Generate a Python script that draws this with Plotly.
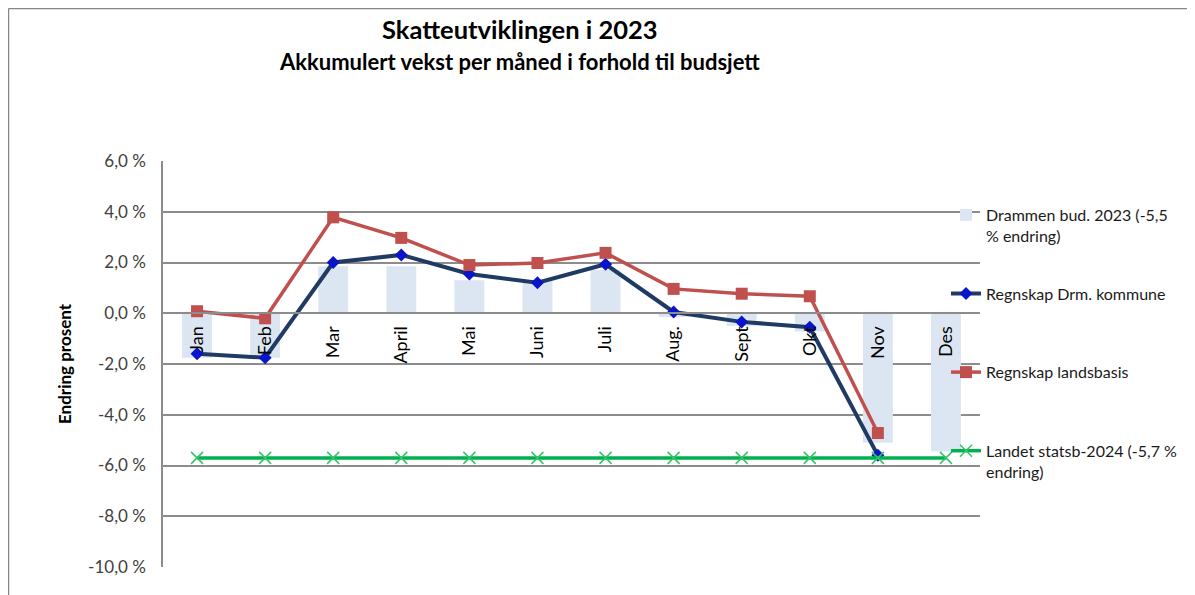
import plotly.graph_objects as go

months = ["Jan", "Feb", "Mar", "April", "Mai", "Juni", "Juli", "Aug.", "Sept", "Okt", "Nov", "Des"]
budsjett_drammen = [-1.75, -1.75, 1.85, 1.85, 1.3, 1.3, 1.7, -0.15, -0.5, -0.72, -5.1, -5.45]
regnskap_drm = [-1.6, -1.75, 2.0, 2.3, 1.55, 1.2, 1.93, 0.05, -0.34, -0.55, -5.6, None]
regnskap_land = [0.08, -0.2, 3.78, 2.97, 1.9, 1.98, 2.38, 0.96, 0.77, 0.67, -4.72, None]
landet_statsb = [-5.7] * 12

ytick_vals = [6, 4, 2, 0, -2, -4, -6, -8, -10]
ytick_text = ["6,0 %", "4,0 %", "2,0 %", "0,0 %", "-2,0 %", "-4,0 %", "-6,0 %", "-8,0 %", "-10,0 %"]

FONT = "Lato, Carlito, Calibri, sans-serif"

# page has an 8px body margin, so figure pixel = page pixel - 8
L, T = 155, 153
PW, PH = 817, 406
W, H = 1195, 595


def px(xp):
    return (xp - 8 - L) / PW


def py(yp):
    return 1 - (yp - 8 - T) / PH


fig = go.Figure()
fig.add_trace(go.Bar(
    x=months, y=budsjett_drammen, name="Drammen bud. 2023 (-5,5<br>% endring)",
    marker=dict(color="#DCE6F2", line=dict(width=0)), width=0.44, legendgroup="a",
))
fig.add_trace(go.Scatter(
    x=months, y=regnskap_drm, name="Regnskap Drm. kommune<br>&nbsp;", mode="lines+markers",
    line=dict(color="#1F3B63", width=4),
    marker=dict(symbol="diamond", size=10, color="#0A14C8"), legendgroup="b",
))
fig.add_trace(go.Scatter(
    x=months, y=regnskap_land, name="Regnskap landsbasis<br>&nbsp;", mode="lines+markers",
    line=dict(color="#C0504D", width=3.5),
    marker=dict(symbol="square", size=12, color="#C0504D"), legendgroup="c",
))
fig.add_trace(go.Scatter(
    x=months, y=landet_statsb, name="Landet statsb-2024 (-5,7 %<br>endring)", mode="lines+markers",
    line=dict(color="#00B050", width=3.5),
    marker=dict(symbol="x-thin", size=12, color="#33C466", line=dict(width=1.5, color="#33C466")),
    legendgroup="d",
))

fig.update_layout(
    width=W, height=H,
    margin=dict(l=L, r=W - L - PW, t=T, b=H - T - PH),
    paper_bgcolor="white", plot_bgcolor="white",
    font=dict(family=FONT, color="#262626"),
    showlegend=True,
    legend=dict(
        x=px(946), xanchor="left", y=py(198), yanchor="top",
        valign="top", tracegroupgap=34, font=dict(size=16, color="#1a1a1a"),
        bgcolor="rgba(0,0,0,0)",
    ),
    xaxis=dict(
        type="category", anchor="free", position=0.625,
        showline=True, linecolor="#8C8C8C", linewidth=1.5,
        showgrid=False, ticks="", tickangle=-90,
        tickfont=dict(size=18, color="black", family=FONT),
        ticklabelstandoff=5,
        range=[-0.5, 11.5],
    ),
    yaxis=dict(
        range=[-10, 6], tickvals=ytick_vals, ticktext=ytick_text,
        showgrid=True, gridcolor="#8C8C8C", gridwidth=1.5,
        showline=True, linecolor="#8C8C8C", linewidth=1.5,
        zeroline=False, ticks="", ticklabelstandoff=12,
        tickfont=dict(size=17, color="#404040", family=FONT),
        title=dict(text="<b>Endring prosent</b>", font=dict(size=17, color="black", family=FONT), standoff=12),
    ),
)

fig.add_annotation(text="<b>Skatteutviklingen i 2023</b>", xref="paper", yref="paper",
                   x=px(520), y=py(29), xanchor="center", yanchor="middle",
                   showarrow=False, font=dict(size=25.5, color="black", family=FONT))
fig.add_annotation(text="<b>Akkumulert vekst per måned i forhold til budsjett</b>", xref="paper", yref="paper",
                   x=px(519), y=py(62), xanchor="center", yanchor="middle",
                   showarrow=False, font=dict(size=22, color="black", family=FONT))

# outer chart border (top and left edges visible)
x0 = px(8.5)
x1 = px(1200)
ytop = py(8.5)
ybot = py(600)
fig.add_shape(type="line", xref="paper", yref="paper", x0=x0, x1=x1, y0=ytop, y1=ytop,
              line=dict(color="#868686", width=1.5))
fig.add_shape(type="line", xref="paper", yref="paper", x0=x0, x1=x0, y0=ytop, y1=ybot,
              line=dict(color="#868686", width=1.5))

fig.write_html("out.html")
